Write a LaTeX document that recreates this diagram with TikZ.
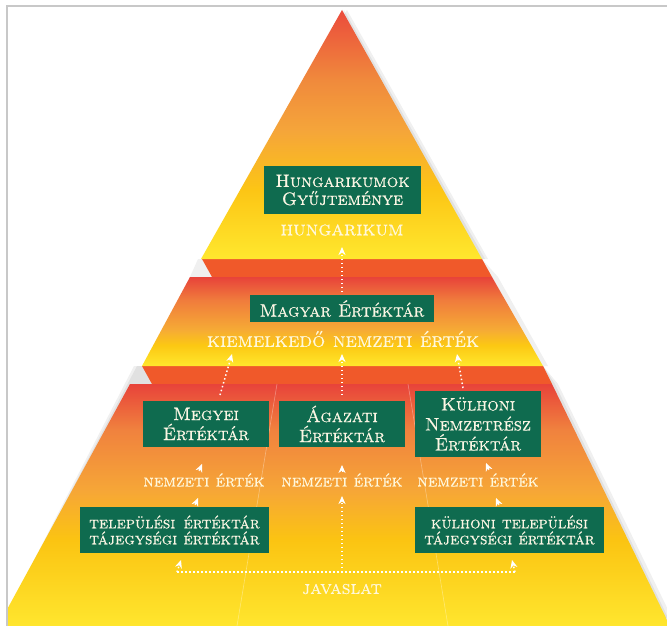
\documentclass[tikz,border=0pt]{standalone}
\usepackage{fontspec}
\setmainfont{lmroman10-regular}[Extension=.otf, BoldFont=lmroman10-bold, SmallCapsFont=lmromancaps10-regular, SmallCapsFeatures={FakeBold=0.45}]
\usetikzlibrary{arrows.meta}
\definecolor{boxgreen}{HTML}{0F6B4F}
\definecolor{cream}{HTML}{FBF6E4}
\definecolor{lblcream}{HTML}{FFF8DC}
\definecolor{bandred}{HTML}{F0592A}
\definecolor{framegray}{HTML}{C8C8C8}
% top tier
\definecolor{tA0}{HTML}{FFE82E}\definecolor{tA1}{HTML}{FCC515}\definecolor{tA2}{HTML}{F5A53A}\definecolor{tA3}{HTML}{F08A3C}\definecolor{tA4}{HTML}{EB4B3C}
\pgfdeclareverticalshading{tierA}{100bp}{color(0bp)=(tA0); color(25bp)=(tA0); color(38.9bp)=(tA1); color(50.9bp)=(tA2); color(60.9bp)=(tA3); color(75bp)=(tA4); color(100bp)=(tA4)}
% middle tier
\definecolor{tB0}{HTML}{FFE72C}\definecolor{tB1}{HTML}{FCC813}\definecolor{tB2}{HTML}{F6AB35}\definecolor{tB3}{HTML}{F07C3C}\definecolor{tB4}{HTML}{E8433A}
\pgfdeclareverticalshading{tierB}{100bp}{color(0bp)=(tB0); color(25bp)=(tB0); color(36.8bp)=(tB1); color(45.2bp)=(tB2); color(62bp)=(tB3); color(75bp)=(tB4); color(100bp)=(tB4)}
% bottom tier
\definecolor{tC0}{HTML}{FFE62E}\definecolor{tC1}{HTML}{FBC412}\definecolor{tC2}{HTML}{F6A637}\definecolor{tC3}{HTML}{F0823E}\definecolor{tC4}{HTML}{E8433A}
\pgfdeclareverticalshading{tierC}{100bp}{color(0bp)=(tC0); color(25bp)=(tC0); color(42.8bp)=(tC1); color(53.1bp)=(tC2); color(65.5bp)=(tC3); color(75bp)=(tC4); color(100bp)=(tC4)}
\newcommand{\hdsize}{\fontsize{18}{20}\selectfont\scshape}
\newcommand{\bodysize}{\fontsize{16.5}{16}\selectfont\scshape}
\tikzset{
  gbox/.style={fill=boxgreen, text=cream, inner sep=0pt, align=center, font=\hdsize},
  lbl/.style={text=lblcream, inner sep=0pt, font=\fontsize{20.5}{20}\selectfont\scshape},
  smalllbl/.style={text=lblcream, inner sep=0pt, font=\fontsize{17}{17}\selectfont\scshape},
  dotline/.style={draw=white, line width=1.5pt, dash pattern=on 1.5pt off 2.5pt},
  arr/.style={dotline, -{Stealth[length=8pt,width=7pt,inset=2.5pt]}},
  headonly/.style={draw=white, line width=1pt, -{Stealth[length=8pt,width=7pt,inset=2.5pt]}},
  shadowfill/.style={fill=black, opacity=0.06},
}
\begin{document}
\begin{tikzpicture}[x=1pt,y=-1pt]
\useasboundingbox (0,0) rectangle (667,626);
\fill[white] (0,0) rectangle (667,626);
\begin{scope}
\clip (7,6) rectangle (667,626);
% shadows
\fill[shadowfill] (347,10) -- (488,259) -- (205,259) -- cycle;
\fill[shadowfill] (344,10) -- (485,259) -- (205,259) -- cycle;
\fill[shadowfill] (198,259) -- (482,259) -- (498,277) -- (548,366) -- (150,366) -- cycle;
\fill[shadowfill] (137,366) -- (543,366) -- (558,384) -- (676,626) -- (0,626) -- cycle;
\fill[shadowfill] (134,366) -- (543,366) -- (555,384) -- (672,626) -- (0,626) -- cycle;
% bands
\fill[bandred] (202,259) -- (482,259) -- (492,277) -- (212,277) -- cycle;
\fill[bandred] (142,366) -- (543,366) -- (552,384) -- (152,384) -- cycle;
% tiers
\shade[shading=tierA] (342,10) -- (482,259) -- (201,259) -- cycle;
\shade[shading=tierB] (190,277) -- (492,277) -- (543,366) -- (142,366) -- cycle;
\shade[shading=tierC] (130,384) -- (552,384) -- (670,626) -- (-2,626) -- cycle;
% faint dividers
\draw[white, opacity=0.35, line width=0.6pt] (277,384) -- (237,626);
\draw[white, opacity=0.35, line width=0.6pt] (408,384) -- (448,626);
\end{scope}
% frame
\draw[framegray, line width=1.6pt] (7,626) -- (7,6) -- (667,6);

% nodes
\node[gbox, minimum width=157pt, minimum height=48pt] (hgy) at (342.5,190) {Hungarikumok\\[-2pt]Gyűjteménye};
\node[lbl] (hk) at (342,230) {hungarikum};
\node[gbox, minimum width=184pt, minimum height=27pt] (me) at (342,308.5) {Magyar Értéktár};
\node[lbl] (kne) at (343,339) {kiemelkedő nemzeti érték};
\node[gbox, minimum width=126pt, minimum height=46pt] (megy) at (206,424) {Megyei\\Értéktár};
\node[gbox, minimum width=126pt, minimum height=46pt] (agaz) at (342,424) {Ágazati\\Értéktár};
\node[gbox, minimum width=126pt, minimum height=66pt] (kul) at (478,424) {Külhoni\\Nemzetrész\\Értéktár};
\node[smalllbl] (ne1) at (204,480) {nemzeti érték};
\node[smalllbl] (ne2) at (342,480) {nemzeti érték};
\node[smalllbl] (ne3) at (478,480) {nemzeti érték};
\node[gbox, font=\bodysize, minimum width=189pt, minimum height=46pt] (tel) at (174.5,530) {települési\enspace értéktár\\tájegységi értéktár};
\node[gbox, font=\bodysize, minimum width=189pt, minimum height=46pt] (ktel) at (509.5,530) {külhoni települési\\tájegységi értéktár};
\node[lbl, font=\fontsize{19}{19}\selectfont\scshape] (jav) at (342,589) {javaslat};

% connector coordinates
\coordinate (c1s) at (342,292); \coordinate (c1e) at (342,247);
\coordinate (c2s) at (220,395); \coordinate (c2e) at (232,354);
\coordinate (c3s) at (342,395); \coordinate (c3e) at (342,354);
\coordinate (c4s) at (463,388); \coordinate (c4e) at (457,354);
\coordinate (jl) at (177,572); \coordinate (jr) at (515,572); \coordinate (jm) at (342,572);
\coordinate (jlh) at (181,560); \coordinate (jrh) at (512,560);

\draw[arr] (c1s) -- (c1e);
\draw[arr] (c2s) -- (c2e);
\draw[arr] (c3s) -- (c3e);
\draw[arr] (c4s) -- (c4e);
\draw[dotline] (jl) -- (jr);
\draw[arr] (jl) -- (jlh);
\draw[arr] (jr) -- (jrh);
\draw[arr] (jm) -- (342,496);
% head-only arrows
\draw[headonly] (195,505) -- (198,498);
\draw[headonly] (199,471) -- (202,464);
\draw[headonly] (342,472) -- (342,465);
\draw[headonly] (499,505) -- (496,498);
\draw[headonly] (489,470) -- (486,463);
\end{tikzpicture}
\end{document}
